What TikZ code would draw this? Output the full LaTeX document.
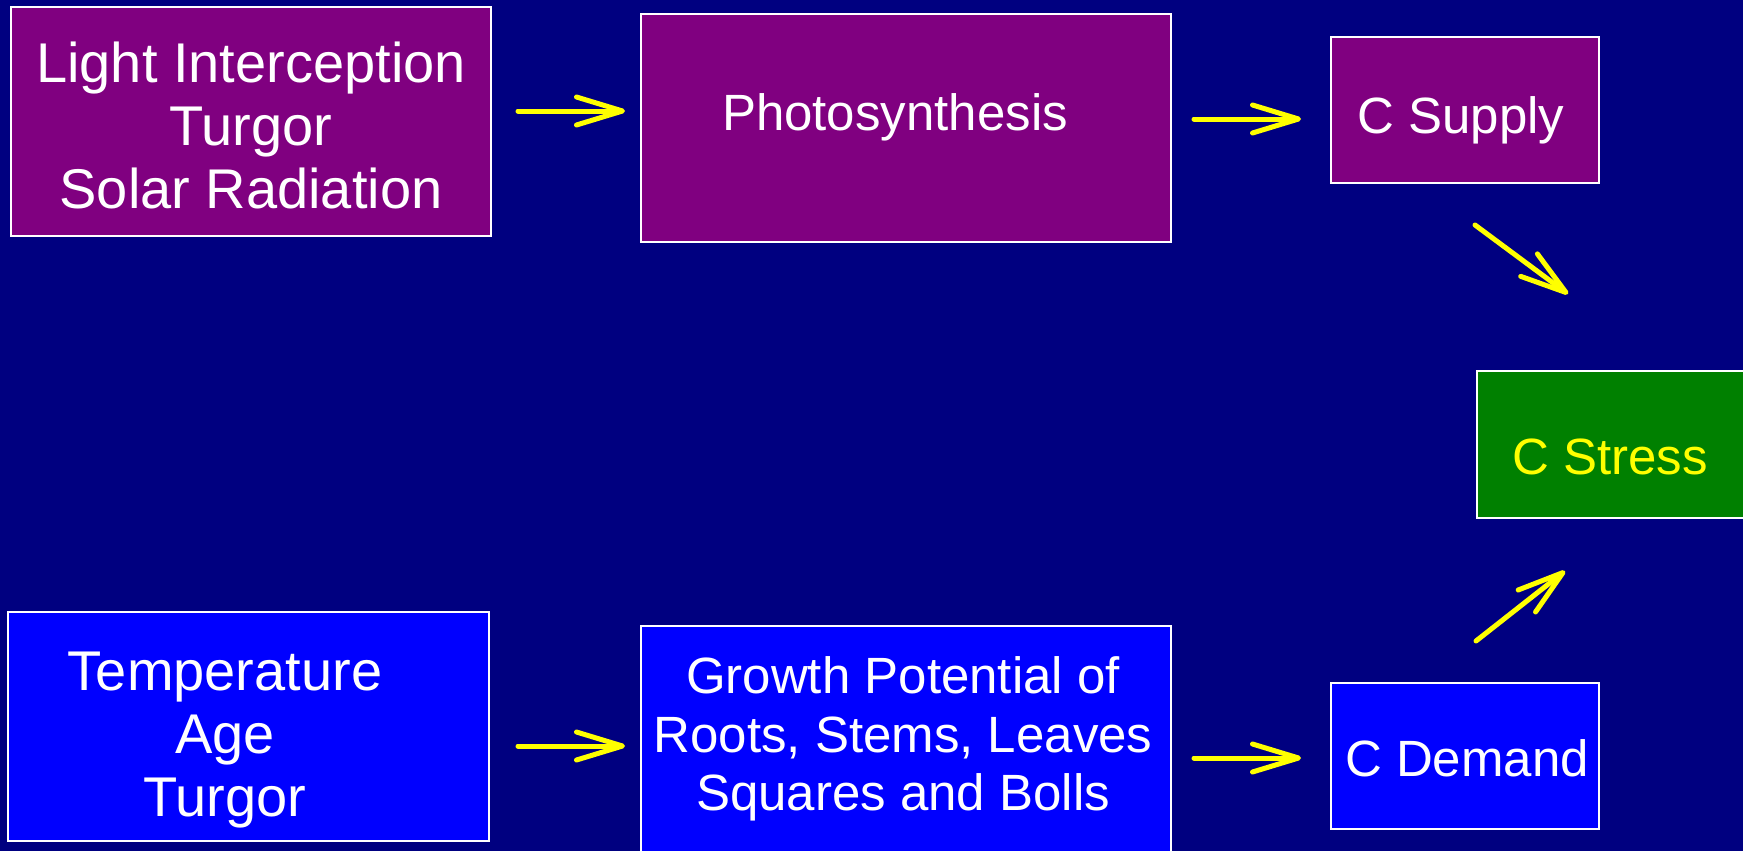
\documentclass[tikz,border=0pt]{standalone}
\usepackage{fontspec}
\setmainfont{Liberation Sans}
\usetikzlibrary{arrows.meta}
\definecolor{bgnavy}{HTML}{000080}
\definecolor{boxpurple}{HTML}{800080}
\definecolor{boxblue}{HTML}{0000FF}
\definecolor{boxgreen}{HTML}{008000}
\definecolor{arryellow}{HTML}{FFFF00}
\tikzset{
  box/.style={draw=white, line width=2, rectangle, inner sep=0, outer sep=0},
  bigtxt/.style={text=white, align=center, inner sep=0, font=\fontsize{56}{63}\selectfont},
  midtxt/.style={text=white, align=center, inner sep=0, font=\fontsize{51}{58.5}\selectfont},
  arr/.style={draw=arryellow, line width=5, line cap=round, line join=round,
    -{Straight Barb[length=46, width=28, line cap=round, line join=round]}}
}
\begin{document}
\begin{tikzpicture}[x=1pt, y=-1pt]
\useasboundingbox[fill=bgnavy] (0,0) rectangle (1743,851);
% boxes
\node[box, fill=boxpurple, minimum width=480, minimum height=229] (b1) at (251,121.5) {};
\node[box, fill=boxpurple, minimum width=530, minimum height=228] (b2) at (906,128) {};
\node[box, fill=boxpurple, minimum width=268, minimum height=146] (b3) at (1465,110) {};
\node[box, fill=boxgreen, minimum width=283, minimum height=147] (b4) at (1618.5,444.5) {};
\node[box, fill=boxblue, minimum width=481, minimum height=229] (b5) at (248.5,726.5) {};
\node[box, fill=boxblue, minimum width=530, minimum height=244] (b6) at (906,748) {};
\node[box, fill=boxblue, minimum width=268, minimum height=146] (b7) at (1465,756) {};
% texts
\node[bigtxt] (t1) at (251,125) {Light Interception\\Turgor\\Solar Radiation};
\node[midtxt] (t2) at (895,117.5) {Photosynthesis};
\node[midtxt] (t3) at (1461,120.5) {C Supply};
\node[midtxt, text=arryellow] (t4) at (1610,457) {C Stress};
\node[bigtxt] (t5) at (225,740) {Temperature\\Age\\Turgor};
\node[midtxt] (t6) at (903,739) {Growth Potential of\\Roots, Stems, Leaves\\Squares and Bolls};
\node[midtxt] (t7) at (1467,758) {C Demand};
% arrow end points
\coordinate (a1s) at (518,111); \coordinate (a1e) at (625,111);
\coordinate (a2s) at (1194,119); \coordinate (a2e) at (1301,119);
\coordinate (a3s) at (1475,225); \coordinate (a3e) at (1568,294);
\coordinate (a4s) at (518,746); \coordinate (a4e) at (625,746);
\coordinate (a5s) at (1194,758); \coordinate (a5e) at (1301,758);
\coordinate (a6s) at (1476,641); \coordinate (a6e) at (1565,571);
\draw[arr] (a1s) -- (a1e);
\draw[arr] (a2s) -- (a2e);
\draw[arr] (a3s) -- (a3e);
\draw[arr] (a4s) -- (a4e);
\draw[arr] (a5s) -- (a5e);
\draw[arr] (a6s) -- (a6e);
\end{tikzpicture}
\end{document}
